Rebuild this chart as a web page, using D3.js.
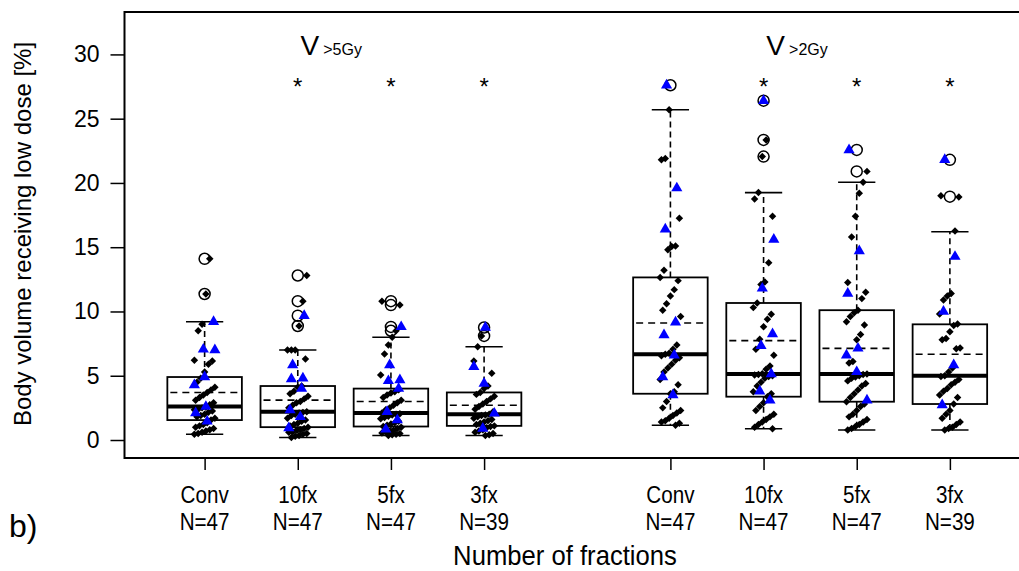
<!DOCTYPE html>
<head>
<meta charset="utf-8">
<style>
  body { margin:0; background:#fff; }
  text { font-family:"Liberation Sans", Arial, sans-serif; fill:#000; }
</style>
</head>

<script src="https://d3js.org/d3.v7.min.js"></script>

<div id="my_dataviz"></div>

<script>
// categories and positions (R style: 1..4, gap, 6..9)
const groups = ["Conv", "10fx", "5fx", "3fx", "Conv", "10fx", "5fx", "3fx"];
const nLabels = ["N=47", "N=47", "N=47", "N=39", "N=47", "N=47", "N=47", "N=39"];
const positions = [1, 2, 3, 4, 6, 7, 8, 9];
const yTicks = [0, 5, 10, 15, 20, 25, 30];

// box statistics
const whiskLo = [0.45, 0.2, 0.35, 0.35, 1.15, 0.88, 0.78, 0.78];
const q1      = [1.55, 1.0, 1.05, 1.1, 3.6, 3.37, 2.98, 2.8];
const medians = [2.6, 2.2, 2.1, 2.0, 6.67, 5.14, 5.14, 5.0];
const q3      = [4.9, 4.2, 4.0, 3.7, 12.65, 10.66, 10.1, 9.0];
const whiskHi = [9.2, 7.0, 8.0, 7.25, 25.7, 19.25, 20.05, 16.2];
const means   = [3.7, 3.1, 3.0, 2.7, 9.1, 7.73, 7.13, 6.67];
const outliers = [
  [14.1, 11.36],
  [12.8, 10.8, 9.67, 8.87],
  [10.8, 10.5, 8.8, 8.5],
  [8.75, 8.1],
  [27.6],
  [26.4, 23.35, 22.05],
  [22.57, 20.9],
  [21.8, 18.93]
];
const starred = [false, true, true, true, false, true, true, true];

// individual patients (black) and the blue subgroup
const blackPts = [
  [0.45, 0.5, 0.6, 0.7, 0.8, 0.9, 1.0, 1.1, 1.2, 1.35, 1.55, 1.7, 1.8, 1.9, 2.0, 2.15, 2.25, 2.35, 2.4, 2.5,
   2.55, 2.75, 2.9, 3.1, 3.3, 3.5, 3.7, 3.9, 4.1, 4.5, 4.8, 5.3, 5.9, 6.15, 6.2, 8.5, 9.0, 11.36, 14.1],
  [0.2, 0.3, 0.35, 0.45, 0.5, 0.6, 0.65, 0.75, 0.8, 0.9, 1.0, 1.1, 1.2, 1.3, 1.45, 1.55, 1.7, 1.9, 2.0, 2.1,
   2.15, 2.2, 2.5, 2.7, 2.9, 3.0, 3.2, 3.4, 3.6, 3.8, 4.1, 4.2, 6.3, 7.0, 7.0, 7.0, 8.87, 10.8, 12.8],
  [0.35, 0.4, 0.45, 0.5, 0.55, 0.6, 0.7, 0.75, 0.9, 1.0, 1.05, 1.15, 1.25, 1.35, 1.45, 1.65, 1.75, 1.85, 1.95, 2.0,
   2.05, 2.1, 2.35, 2.5, 2.7, 2.9, 3.1, 3.3, 3.5, 3.65, 3.76, 3.9, 5.06, 6.7, 7.4, 8.0, 8.5, 10.5, 10.8],
  [0.35, 0.4, 0.5, 0.6, 0.7, 0.8, 0.95, 1.05, 1.1, 1.2, 1.3, 1.4, 1.5, 1.6, 1.7, 1.8, 1.9, 1.95, 2.0, 2.2,
   2.4, 2.6, 2.8, 3.0, 3.2, 3.4, 3.55, 3.7, 4.0, 4.2, 5.2, 6.15, 7.25, 8.1],
  [1.15, 1.3, 1.4, 1.5, 1.7, 1.9, 2.1, 2.3, 2.5, 3.0, 3.6, 3.76, 4.3, 4.7, 5.3, 5.6, 5.9, 6.2, 6.4, 6.55,
   6.67, 6.75, 7.06, 7.4, 9.6, 10.1, 10.6, 11.2, 11.7, 12.4, 12.65, 13.2, 14.8, 15.05, 15.1, 17.25, 21.8, 21.9, 25.7],
  [0.88, 1.0, 1.2, 1.4, 1.6, 1.8, 2.0, 2.3, 2.6, 2.9, 3.37, 3.6, 3.76, 4.2, 4.5, 4.8, 4.95, 5.0, 5.05, 5.1,
   5.15, 5.5, 5.76, 6.6, 7.06, 7.84, 8.82, 9.4, 9.78, 10.3, 10.66, 12.1, 12.3, 13.8, 17.4, 18.75, 19.25, 22.05, 23.35],
  [0.78, 0.9, 1.05, 1.2, 1.4, 1.6, 1.8, 2.0, 2.3, 2.6, 2.8, 2.98, 3.3, 3.6, 3.9, 4.2, 4.4, 4.6, 4.8, 4.9,
   5.0, 5.1, 5.14, 6.0, 6.1, 7.8, 8.2, 8.95, 9.2, 9.6, 9.9, 10.1, 11.0, 11.5, 12.25, 15.8, 17.4, 19.2, 20.05, 20.9],
  [0.78, 0.9, 1.0, 1.2, 1.4, 1.7, 2.0, 2.3, 2.8, 3.3, 3.5, 3.8, 4.0, 4.3, 4.5, 4.7, 4.95, 5.0, 5.3, 5.6,
   7.1, 7.15, 7.8, 7.9, 8.43, 8.9, 9.03, 9.8, 10.9, 11.2, 11.4, 16.26, 18.9, 19.0]
];
const bluePts = [
  [9.2, 7.05, 7.0, 4.9, 4.28, 2.6, 2.1, 1.45],
  [0.93, 1.8, 2.33, 4.0, 4.75, 4.8, 5.84, 9.67],
  [0.83, 1.56, 2.2, 4.0, 4.6, 4.67, 5.84, 8.8],
  [0.9, 2.07, 4.4, 5.7, 8.75],
  [3.5, 4.9, 6.6, 8.17, 9.16, 16.4, 19.6, 27.6],
  [3.1, 3.8, 5.14, 7.34, 8.25, 11.8, 15.6, 26.4],
  [3.1, 5.3, 6.6, 7.13, 11.4, 14.7, 22.57],
  [2.72, 5.84, 10.0, 14.27, 21.8]
];

// headers: main letter + subscript, starting above box position
const headMain = ["V", "V"];
const headSub = [">5Gy", ">2Gy"];
const headPos = [2.03, 7.03];

// ---------------------------------------------------------------
var W = 1019, H = 571;
var svg = d3.select("#my_dataviz")
  .append("svg")
    .attr("width", W)
    .attr("height", H);

var x = d3.scaleLinear().domain([0.14, 9.86]).range([124.5, 1030]);
var y = d3.scaleLinear().domain([-1.4, 33.3]).range([458, 12]);

var boxW = 0.8, capW = 0.4;
var bw = x(boxW) - x(0), cw = x(capW) - x(0);

// frame
svg.append("rect")
  .attr("x", x(0.14)).attr("y", y(33.3))
  .attr("width", x(9.86) - x(0.14)).attr("height", y(-1.4) - y(33.3))
  .attr("fill", "none").attr("stroke", "#000").attr("stroke-width", 2);

// y axis
var yAxis = svg.append("g")
  .attr("transform", "translate(" + x(0.14) + ",0)")
  .call(d3.axisLeft(y).tickValues(yTicks).tickSize(14).tickPadding(11).tickFormat(d3.format("d")));
yAxis.select(".domain").remove();
yAxis.selectAll("line").attr("stroke-width", 1.5);
yAxis.selectAll("text").style("font-size", "23px").style("font-family", "Liberation Sans, Arial, sans-serif");

// x ticks
var xAxis = svg.append("g")
  .attr("transform", "translate(0," + y(-1.4) + ")")
  .call(d3.axisBottom(x).tickValues(positions).tickSize(12).tickFormat(""));
xAxis.select(".domain").remove();
xAxis.selectAll("line").attr("stroke-width", 1.5);

// x labels (two lines, condensed look)
positions.forEach(function(p, i) {
  svg.append("text")
    .attr("transform", "translate(" + x(p) + ",503) scale(0.86,1)")
    .attr("text-anchor", "middle").style("font-size", "24px").text(groups[i]);
  svg.append("text")
    .attr("transform", "translate(" + x(p) + ",530) scale(0.86,1)")
    .attr("text-anchor", "middle").style("font-size", "24px").text(nLabels[i]);
});

// axis titles
svg.append("text")
  .attr("transform", "translate(565,565) scale(0.95,1)")
  .attr("text-anchor", "middle").style("font-size", "27px").text("Number of fractions");
svg.append("text")
  .attr("transform", "translate(31,234) rotate(-90)")
  .attr("text-anchor", "middle").style("font-size", "24px")
  .text("Body volume receiving low dose [%]");
svg.append("text").attr("x", 9).attr("y", 537)
  .style("font-size", "32px").text("b)");

// boxes
var box = svg.selectAll(".box").data(positions).enter().append("g").attr("class", "box");
box.append("line") // upper whisker
  .attr("x1", d => x(d)).attr("x2", d => x(d))
  .attr("y1", (d, i) => y(q3[i])).attr("y2", (d, i) => y(whiskHi[i]))
  .attr("stroke", "#000").attr("stroke-width", 1.6).attr("stroke-dasharray", "6,4");
box.append("line") // lower whisker
  .attr("x1", d => x(d)).attr("x2", d => x(d))
  .attr("y1", (d, i) => y(q1[i])).attr("y2", (d, i) => y(whiskLo[i]))
  .attr("stroke", "#000").attr("stroke-width", 1.6).attr("stroke-dasharray", "6,4");
box.append("line")
  .attr("x1", d => x(d) - cw / 2).attr("x2", d => x(d) + cw / 2)
  .attr("y1", (d, i) => y(whiskHi[i])).attr("y2", (d, i) => y(whiskHi[i]))
  .attr("stroke", "#000").attr("stroke-width", 1.6);
box.append("line")
  .attr("x1", d => x(d) - cw / 2).attr("x2", d => x(d) + cw / 2)
  .attr("y1", (d, i) => y(whiskLo[i])).attr("y2", (d, i) => y(whiskLo[i]))
  .attr("stroke", "#000").attr("stroke-width", 1.6);
box.append("rect")
  .attr("x", d => x(d) - bw / 2).attr("width", bw)
  .attr("y", (d, i) => y(q3[i])).attr("height", (d, i) => y(q1[i]) - y(q3[i]))
  .attr("fill", "#fff").attr("stroke", "#000").attr("stroke-width", 1.8);
box.append("line") // mean
  .attr("x1", d => x(d) - bw / 2 + 3).attr("x2", d => x(d) + bw / 2 - 3)
  .attr("y1", (d, i) => y(means[i])).attr("y2", (d, i) => y(means[i]))
  .attr("stroke", "#000").attr("stroke-width", 1.6).attr("stroke-dasharray", "7,5");
box.append("line") // median
  .attr("x1", d => x(d) - bw / 2).attr("x2", d => x(d) + bw / 2)
  .attr("y1", (d, i) => y(medians[i])).attr("y2", (d, i) => y(medians[i]))
  .attr("stroke", "#000").attr("stroke-width", 4);

// outliers
positions.forEach(function(p, i) {
  svg.selectAll(null).data(outliers[i]).enter().append("circle")
    .attr("cx", x(p)).attr("cy", d => y(d)).attr("r", 5.5)
    .attr("fill", "none").attr("stroke", "#000").attr("stroke-width", 1.5);
});

// jittered points (fixed pattern offsets)
function jit(i, k) { return ((((i + k) * 37) % 17) / 16 - 0.5) * 0.22; }
var diamond = d3.symbol().type(d3.symbolSquare).size(28);
var tri = d3.symbol().type(d3.symbolTriangle).size(54);
positions.forEach(function(p, g) {
  svg.selectAll(null).data(blackPts[g]).enter().append("path")
    .attr("d", diamond)
    .attr("transform", (d, i) => "translate(" + x(p + jit(i, g)) + "," + y(d) + ") rotate(45)")
    .attr("fill", "#000");
  svg.selectAll(null).data(bluePts[g]).enter().append("path")
    .attr("d", tri)
    .attr("transform", (d, i) => "translate(" + x(p + jit(i * 3 + 5, g)) + "," + y(d) + ")")
    .attr("fill", "#0000ff");
});

// significance stars
positions.forEach(function(p, i) {
  if (!starred[i]) return;
  svg.append("text").attr("x", x(p)).attr("y", y(27.85) + 13)
    .attr("text-anchor", "middle").style("font-size", "24px").text("*");
});

// headers
headPos.forEach(function(p, i) {
  var t = svg.append("text").attr("x", x(p)).attr("y", 55);
  t.append("tspan").style("font-size", "28px").text(headMain[i]);
  t.append("tspan").attr("dx", 4).style("font-size", "16px").text(headSub[i]);
});
</script>
